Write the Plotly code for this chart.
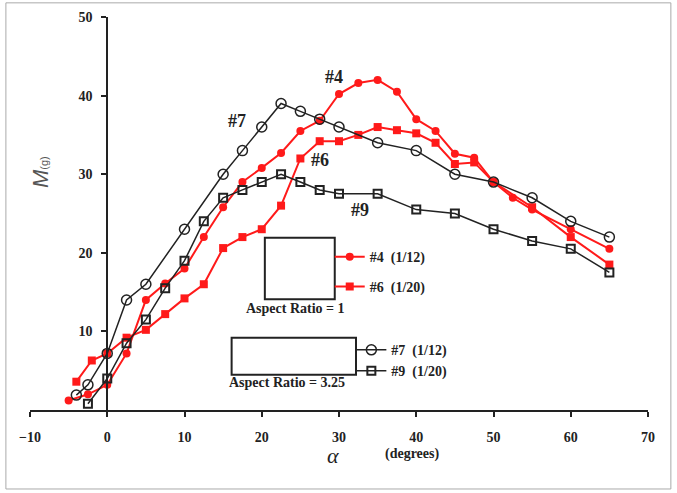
import plotly.graph_objects as go

# ---- data ----
alpha_4 = [-5, -2.5, 0, 2.5, 5, 7.5, 10, 12.5, 15, 17.5, 20, 22.5, 25, 27.5, 30, 32.5, 35, 37.5, 40, 42.5, 45, 47.5, 50, 52.5, 55, 60, 65]
m_4 = [1.2, 2.0, 3.2, 7.2, 14.0, 16.1, 18.0, 22.0, 25.8, 29.0, 30.8, 32.7, 35.5, 36.8, 40.2, 41.6, 42.0, 40.5, 37.0, 35.5, 32.6, 32.1, 29.0, 27.0, 25.5, 23.0, 20.5]

alpha_6 = [-4, -2, 0, 2.5, 5, 7.5, 10, 12.5, 15, 17.5, 20, 22.5, 25, 27.5, 30, 32.5, 35, 37.5, 40, 42.5, 45, 47.5, 50, 55, 60, 65]
m_6 = [3.6, 6.3, 7.2, 9.2, 10.2, 12.2, 14.2, 16.0, 20.6, 22.0, 23.0, 26.0, 32.0, 34.2, 34.2, 35.0, 36.0, 35.6, 35.2, 34.0, 31.3, 31.5, 29.0, 25.8, 22.0, 18.5]

alpha_7 = [-4, -2.5, 0, 2.5, 5, 10, 15, 17.5, 20, 22.5, 25, 27.5, 30, 35, 40, 45, 50, 55, 60, 65]
m_7 = [1.9, 3.2, 7.2, 14.0, 16.0, 23.0, 30.0, 33.0, 36.0, 39.0, 38.0, 37.0, 36.0, 34.0, 33.0, 30.0, 29.0, 27.0, 24.0, 22.0]

alpha_9 = [-2.5, 0, 2.5, 5, 7.5, 10, 12.5, 15, 17.5, 20, 22.5, 25, 27.5, 30, 35, 40, 45, 50, 55, 60, 65]
m_9 = [0.8, 4.0, 8.5, 11.5, 15.5, 19.0, 24.0, 27.0, 28.0, 29.0, 30.0, 29.0, 28.0, 27.5, 27.5, 25.5, 25.0, 23.0, 21.5, 20.5, 17.5]

x_ticks = [-10, 0, 10, 20, 30, 40, 50, 60, 70]
y_ticks = [10, 20, 30, 40, 50]

RED = "#ff1a1a"
BLK = "#222222"
SERIF = "Liberation Serif"

fig = go.Figure()

fig.add_trace(go.Scatter(x=alpha_4, y=m_4, mode="lines+markers", name="#4  (1/12)",
                         line=dict(color=RED, width=2),
                         marker=dict(symbol="circle", size=8, color=RED),
                         legend="legend"))
fig.add_trace(go.Scatter(x=alpha_6, y=m_6, mode="lines+markers", name="#6  (1/20)",
                         line=dict(color=RED, width=2),
                         marker=dict(symbol="square", size=8, color=RED),
                         legend="legend2"))
fig.add_trace(go.Scatter(x=alpha_7, y=m_7, mode="lines+markers", name="#7  (1/12)",
                         line=dict(color=BLK, width=1.5),
                         marker=dict(symbol="circle-open", size=10, color=BLK, line=dict(width=1.5)),
                         legend="legend3"))
fig.add_trace(go.Scatter(x=alpha_9, y=m_9, mode="lines+markers", name="#9  (1/20)",
                         line=dict(color=BLK, width=1.5),
                         marker=dict(symbol="square-open", size=8, color=BLK, line=dict(width=2)),
                         legend="legend4"))

leg_common = dict(bgcolor="rgba(0,0,0,0)", borderwidth=0, xanchor="left", yanchor="middle",
                  font=dict(family=SERIF, size=14, color=BLK, weight="bold"),
                  itemwidth=30, tracegroupgap=0)

fig.update_layout(
    width=677, height=493,
    margin=dict(l=30, r=29, t=17, b=83),
    paper_bgcolor="white", plot_bgcolor="white",
    xaxis=dict(range=[-10, 70], tickvals=x_ticks, showgrid=False, zeroline=False,
               showline=True, linecolor=BLK, linewidth=2, ticks="outside", ticklen=5,
               tickcolor=BLK, tickwidth=2, automargin=False,
               tickfont=dict(family=SERIF, size=14, color=BLK, weight="bold"),
               ticklabelstandoff=8),
    yaxis=dict(range=[0, 50], tickvals=y_ticks, showgrid=False, zeroline=False,
               showline=True, linecolor=BLK, linewidth=2, ticks="outside", ticklen=5,
               tickcolor=BLK, tickwidth=2, anchor="free", position=0.125, automargin=False,
               tickfont=dict(family=SERIF, size=14, color=BLK, weight="bold"),
               ticklabelstandoff=6),
    legend=dict(x=0.485, y=0.389, **leg_common),
    legend2=dict(x=0.485, y=0.313, **leg_common),
    legend3=dict(x=0.52, y=0.152, **leg_common),
    legend4=dict(x=0.52, y=0.099, **leg_common),
    showlegend=True,
)

# legend sample rectangles
fig.add_shape(type="rect", xref="x", yref="y", x0=20.4, x1=29.45, y0=14.1, y1=21.9,
              line=dict(color=BLK, width=2), fillcolor="white")
fig.add_shape(type="rect", xref="x", yref="y", x0=16.1, x1=32.2, y0=4.5, y1=9.2,
              line=dict(color=BLK, width=2), fillcolor="white")

# outer frame
fig.add_shape(type="rect", xref="paper", yref="paper", x0=-0.039, x1=1.037, y0=-0.201, y1=1.036,
              line=dict(color="#aaaaaa", width=1), layer="below")

def ann(**kw):
    kw.setdefault("showarrow", False)
    kw.setdefault("xanchor", "center")
    kw.setdefault("yanchor", "middle")
    fig.add_annotation(**kw)

ann_font = dict(family=SERIF, size=14, color=BLK, weight="bold")
ann(x=0.430, y=0.257, xref="paper", yref="paper", text="Aspect Ratio = 1", font=ann_font)
ann(x=0.416, y=0.069, xref="paper", yref="paper", text="Aspect Ratio = 3.25", font=ann_font)

lab_font = dict(family=SERIF, size=18, color=BLK, weight="bold")
for txt, xx, yy in [("#4", 29.4, 42.4), ("#7", 16.8, 36.8), ("#6", 27.5, 31.8), ("#9", 32.7, 25.4)]:
    ann(x=xx, y=yy, xref="x", yref="y", text=txt, font=lab_font)

# axis titles
ann(x=(40 - 30) / 618, y=(410 - 172) / 393, xref="paper", yref="paper",
    text="<i>M</i><span style='font-size:11px'>(g)</span>", textangle=-90,
    font=dict(family="Liberation Sans", size=22, color="#555555"))
ann(x=(333 - 30) / 618, y=(410 - 455) / 393, xref="paper", yref="paper",
    text="<i>α</i>", font=dict(family=SERIF, size=22, color=BLK))
ann(x=(412 - 30) / 618, y=(410 - 454) / 393, xref="paper", yref="paper",
    text="(degrees)", font=dict(family=SERIF, size=14, color=BLK, weight="bold"))

fig.write_html("out.html", config={"displayModeBar": False},
               post_script="document.body.style.margin='0';document.body.style.padding='0';")
